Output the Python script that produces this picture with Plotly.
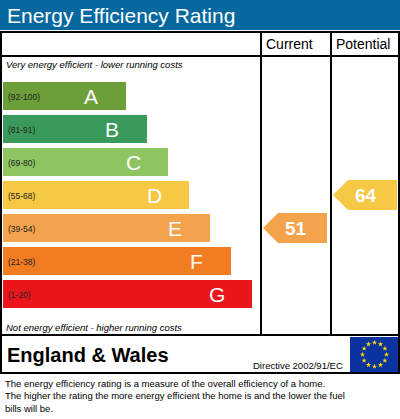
import math
import plotly.graph_objects as go

bands = ["A", "B", "C", "D", "E", "F", "G"]
ranges = ["(92-100)", "(81-91)", "(69-80)", "(55-68)", "(39-54)", "(21-38)", "(1-20)"]
band_colors = ["#6c9e3a", "#3a9a5c", "#8fc560", "#f6c944", "#f4a34d", "#f27c21", "#ea161c"]
band_ends = [126, 147, 168, 189, 210, 231, 252]
band_mins = [92, 81, 69, 55, 39, 21, 1]
current = 51
potential = 64

row_y = [96 + i * 33 for i in range(7)]

fig = go.Figure()
fig.add_trace(go.Bar(x=[e - 3 for e in band_ends], base=3, y=row_y, orientation="h",
                     width=28, marker=dict(color=band_colors, line=dict(width=0)),
                     hoverinfo="skip"))

shapes = [
    dict(type="rect", x0=0, x1=400, y0=0, y1=30, fillcolor="#05699f", line_width=0),
    dict(type="rect", x0=1, x1=399, y0=32, y1=373, line=dict(color="black", width=2)),
    dict(type="line", x0=1, x1=399, y0=56, y1=56, line=dict(color="black", width=2)),
    dict(type="line", x0=1, x1=399, y0=335, y1=335, line=dict(color="black", width=2)),
    dict(type="line", x0=261, x1=261, y0=32, y1=335, line=dict(color="black", width=2)),
    dict(type="line", x0=331, x1=331, y0=32, y1=335, line=dict(color="black", width=2)),
    dict(type="rect", x0=350, x1=399, y0=337, y1=372, fillcolor="#0a33a0", line_width=0, layer="below"),
]
ann = [
    dict(x=5, y=15, text="Energy Efficiency Rating", font=dict(size=21, color="white"), xanchor="left"),
    dict(x=289, y=44, text="Current", font=dict(size=14)),
    dict(x=363, y=44, text="Potential", font=dict(size=14)),
    dict(x=4, y=64, text="<i>Very energy efficient - lower running costs</i>", font=dict(size=9.5), xanchor="left"),
    dict(x=4, y=327, text="<i>Not energy efficient - higher running costs</i>", font=dict(size=9.5), xanchor="left"),
    dict(x=5, y=355, text="<b>England &amp; Wales</b>", font=dict(size=20), xanchor="left"),
    dict(x=345, y=365, text="Directive 2002/91/EC", font=dict(size=9.5), xanchor="right"),
    dict(x=3, y=396, text="The energy efficiency rating is a measure of the overall efficiency of a home.<br>"
         "The higher the rating the more energy efficient the home is and the lower the fuel<br>bills will be.",
         font=dict(size=9.5), xanchor="left", align="left"),
]
for b, r, y, e in zip(bands, ranges, row_y, band_ends):
    ann.append(dict(x=6, y=y + 1, text=r, font=dict(size=8.5, color="#222"), xanchor="left"))
    ann.append(dict(x=e - 35, y=y, text=b, font=dict(size=21, color="white")))


def band_row(v):
    for i, m in enumerate(band_mins):
        if v >= m:
            return i
    return 6


def arrow(x0, x1, v):
    i = band_row(v)
    y = row_y[i]
    c = band_colors[i]
    h = 15
    path = f"M{x0},{y} L{x0+15},{y-h} L{x1},{y-h} L{x1},{y+h} L{x0+15},{y+h} Z"
    shapes.append(dict(type="path", path=path, fillcolor=c, line_width=0))
    ann.append(dict(x=(x0 + x1) / 2 + 1, y=y, text=f"<b>{v}</b>", font=dict(size=19, color="white")))


arrow(263, 327, current)
arrow(333, 397, potential)

# EU stars
angles = [2 * math.pi * k / 12 for k in range(12)]
fig.add_trace(go.Scatter(x=[374.5 + 12 * math.cos(a) for a in angles],
                         y=[354.5 + 12 * math.sin(a) for a in angles],
                         mode="markers", marker=dict(symbol="star", size=4, color="#ffdd00"),
                         hoverinfo="skip"))

for a in ann:
    a.setdefault("showarrow", False)
    a["font"].setdefault("color", "black")
    a["font"]["family"] = "Arial, Liberation Sans, sans-serif"

fig.update_layout(width=400, height=419, margin=dict(l=0, r=0, t=0, b=0),
                  plot_bgcolor="white", paper_bgcolor="white", showlegend=False,
                  xaxis=dict(range=[0, 400], visible=False, fixedrange=True),
                  yaxis=dict(range=[419, 0], visible=False, fixedrange=True),
                  shapes=shapes, annotations=ann)
fig.write_html("out.html", config={"displayModeBar": False},
               post_script="document.body.style.margin='0';document.body.style.overflow='hidden';")
